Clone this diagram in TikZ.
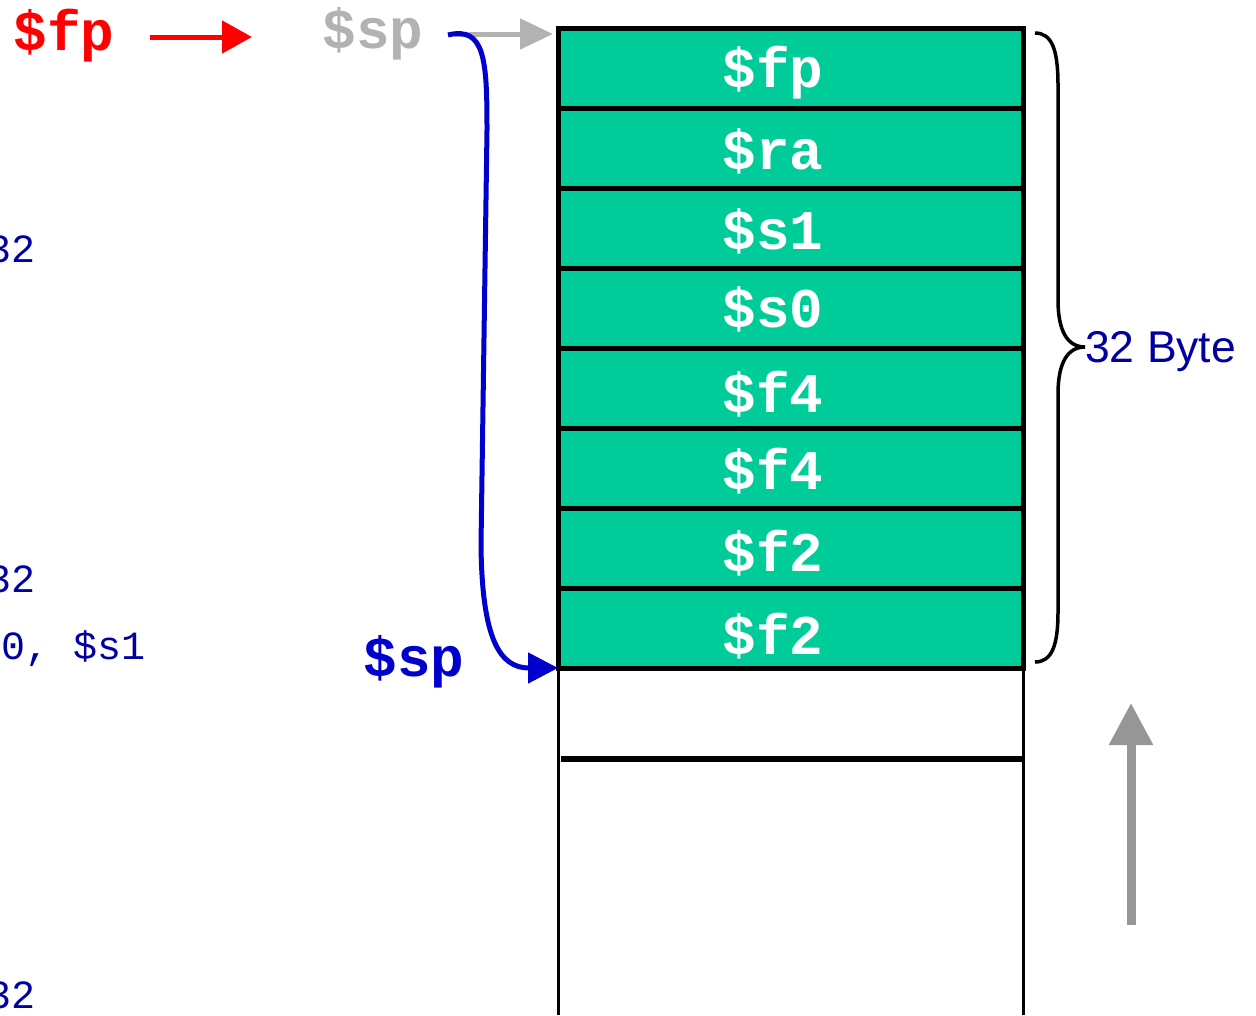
\documentclass[tikz,border=0pt]{standalone}
\usepackage{fontspec}
\setmainfont{Liberation Sans}
\setmonofont{Liberation Mono}
\usetikzlibrary{arrows.meta}
\definecolor{cgreen}{RGB}{0,204,153}
\definecolor{cblue}{RGB}{0,0,204}
\definecolor{cdblue}{RGB}{0,0,160}
\definecolor{cgray}{RGB}{178,178,178}
\definecolor{cdgray}{RGB}{150,150,150}
\begin{document}
\begin{tikzpicture}[x=1pt,y=-1pt,
  cell/.style={draw=black,line width=5pt,fill=cgreen,minimum width=465pt,minimum height=80pt,inner sep=0pt,outer sep=0pt,anchor=north west},
  reglab/.style={font=\fontsize{56}{56}\selectfont\ttfamily\bfseries,text=white,inner sep=0pt,anchor=base},
  bigtt/.style={font=\fontsize{56}{56}\selectfont\ttfamily\bfseries,inner sep=0pt,anchor=base},
  codetxt/.style={font=\fontsize{40}{40}\selectfont\ttfamily,text=cdblue,inner sep=0pt},
]
\useasboundingbox (0,0) rectangle (1256,1015);
% stack rows
\foreach \i in {1,...,8} {
  \node[cell] (r\i) at (558,{28+80*(\i-1)}) {};
}
\node[reglab] (t1) at (773,87) {\$fp};
\node[reglab] (t2) at (773,169) {\$ra};
\node[reglab] (t3) at (773,249) {\$s1};
\node[reglab] (t4) at (773,327) {\$s0};
\node[reglab] (t5) at (773,412) {\$f4};
\node[reglab] (t6) at (773,489) {\$f4};
\node[reglab] (t7) at (773,571) {\$f2};
\node[reglab] (t8) at (773,654) {\$f2};
% lower part of the stack
\coordinate (bl) at (558,1015);
\coordinate (br) at (1023,1015);
\coordinate (ml) at (561,759);
\coordinate (mr) at (1023,759);
\draw[line width=3pt] (r8.south west) -- (bl);
\draw[line width=3pt] (r8.south east) -- (br);
\draw[line width=5.5pt] (ml) -- (mr);
% labels at the top
\node[bigtt,text=red] (fp) at (64,50) {\$fp};
\node[bigtt,text=cgray] (sp0) at (373,48) {\$sp};
\node[bigtt,text=cblue] (sp1) at (414,676) {\$sp};
\coordinate (ra1) at (150,37);
\coordinate (ra2) at (252,37);
\draw[red,line width=5pt,-{Triangle[length=30pt,width=32pt]}] (ra1) -- (ra2);
\coordinate (ga1) at (455,34);
\coordinate (ga2) at (553,34);
\draw[cgray,line width=5pt,-{Triangle[length=33pt,width=30pt]}] (ga1) -- (ga2);
% blue curve
\coordinate (bc0) at (448,35);
\coordinate (bc1) at (487,130);
\coordinate (bc2) at (481,545);
\draw[cblue,line width=5pt,-{Triangle[length=30pt,width=30pt]}] (bc0) .. controls (485,26) and (487,60) .. (bc1) -- (bc2) .. controls (482,640) and (500,668) .. (r8.south west);
% brace
\coordinate (b0) at (1035,33);
\coordinate (b1) at (1058,85);
\coordinate (b2) at (1058,300);
\coordinate (bt) at (1085,347);
\coordinate (b3) at (1058,394);
\coordinate (b4) at (1058,612);
\coordinate (b5) at (1035,662);
\draw[line width=3.5pt] (b0) .. controls (1052,33) and (1058,50) .. (b1) -- (b2) .. controls (1058,332) and (1068,347) .. (bt) .. controls (1068,347) and (1058,362) .. (b3) -- (b4) .. controls (1058,645) and (1052,662) .. (b5);
\node[font=\fontsize{44.5}{44.5}\selectfont,text=cdblue,inner sep=0pt,anchor=base west] (bytes) at (1085,362) {32 Byte};
% gray up arrow
\coordinate (ua1) at (1131,925);
\coordinate (ua2) at (1131,703);
\draw[cdgray,line width=9pt,-{Triangle[length=42pt,width=42pt]}] (ua1) -- (ua2);
% code fragments at the left edge
\node[codetxt,anchor=base east] (c1) at (36,262) {32};
\node[codetxt,anchor=base east] (c2) at (36,592) {32};
\node[codetxt,anchor=base west] (c3) at (1,659) {0, \$s1};
\node[codetxt,anchor=base east] (c4) at (36,1008) {32};
\end{tikzpicture}
\end{document}
